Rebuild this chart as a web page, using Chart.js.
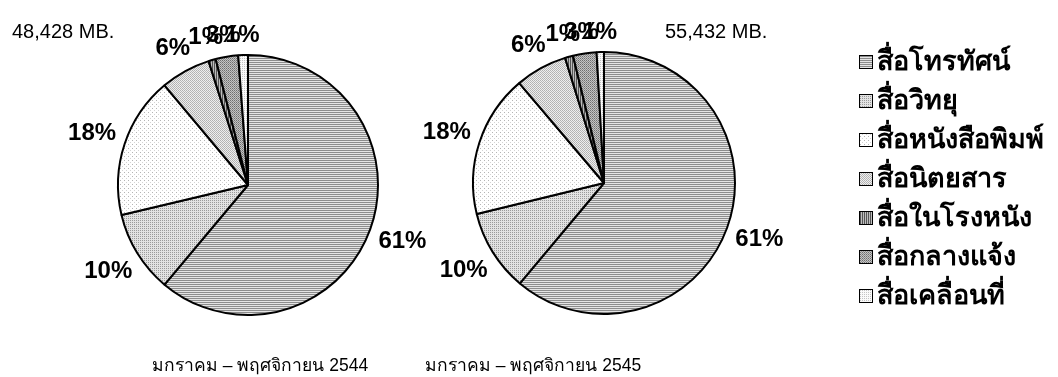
<!DOCTYPE html>
<html lang="th">
<head>
<meta charset="utf-8">
<script src="https://cdn.jsdelivr.net/npm/chart.js"></script>
<style>
  body { margin: 0; background: #fff; }
  #wrap { position: relative; width: 1058px; height: 377px; overflow: hidden; }
  canvas { position: absolute; left: 0; top: 0; }
  .txt { position: absolute; white-space: nowrap; color: #000; }
  .total { font: 20px "Liberation Sans", Arial, sans-serif; top: 20px; }
  .period { font: 17.5px "Liberation Sans", Arial, sans-serif; top: 351px; }
</style>
</head>
<body>
<div id="wrap">
  <canvas id="pie2544" width="1058" height="377"></canvas>
  <canvas id="pie2545" width="1058" height="377"></canvas>
  <div class="txt total" id="total2544" style="left:12px"></div>
  <div class="txt total" id="total2545" style="left:665px"></div>
  <div class="txt period" id="period2544" style="left:152px"></div>
  <div class="txt period" id="period2545" style="left:425px"></div>
</div>
<script>
// ส่วนแบ่งงบโฆษณาตามประเภทสื่อ (%)
const mediaTypes = ['สื่อโทรทัศน์', 'สื่อวิทยุ', 'สื่อหนังสือพิมพ์', 'สื่อนิตยสาร', 'สื่อในโรงหนัง', 'สื่อกลางแจ้ง', 'สื่อเคลื่อนที่'];
const share2544 = [61.1, 10.2, 17.6, 6.2, 0.9, 2.8, 1.2];
const share2545 = [61.1, 10.1, 17.6, 6.4, 1.0, 2.9, 0.9];
const totalLabels = ['48,428 MB.', '55,432 MB.'];
const periodLabels = ['มกราคม – พฤศจิกายน 2544', 'มกราคม – พฤศจิกายน 2545'];

document.getElementById('total2544').textContent = totalLabels[0];
document.getElementById('total2545').textContent = totalLabels[1];
document.getElementById('period2544').textContent = periodLabels[0];
document.getElementById('period2545').textContent = periodLabels[1];

// ลายพื้นแบบขาวดำ (pixel tiles)
function makePattern(rows) {
    const c = document.createElement('canvas');
    c.width = rows[0].length;
    c.height = rows.length;
    const ctx = c.getContext('2d');
    rows.forEach((row, y) => row.forEach((col, x) => {
        ctx.fillStyle = col;
        ctx.fillRect(x, y, 1, 1);
    }));
    return ctx.createPattern(c, 'repeat');
}

const fills = [
    makePattern([['#8c8c8c', '#8c8c8c'], ['#e4e4e4', '#e4e4e4']]),
    makePattern([['#9a9a9a', '#e2e2e2'], ['#e2e2e2', '#e2e2e2']]),
    makePattern([['#b4b4b4', '#fff', '#fff', '#fff'], ['#fff', '#fff', '#fff', '#fff'], ['#fff', '#fff', '#d4d4d4', '#fff'], ['#fff', '#fff', '#fff', '#fff']]),
    makePattern([['#b0b0b0', '#eeeeee'], ['#eeeeee', '#b8b8b8']]),
    makePattern([['#555555', '#bdbdbd']]),
    makePattern([['#6e6e6e', '#c4c4c4'], ['#c4c4c4', '#8e8e8e']]),
    makePattern([['#c4c4c4', '#fafafa'], ['#fafafa', '#fafafa']])
];

const labelFont = 'bold 24px "Liberation Sans", Arial, sans-serif';

// ป้ายเปอร์เซ็นต์นอกวงกลม
const sliceLabels = {
    id: 'sliceLabels',
    afterDatasetsDraw(chart) {
        const ctx = chart.ctx;
        const data = chart.data.datasets[0].data;
        const sum = data.reduce((a, b) => a + b, 0);
        ctx.save();
        ctx.font = labelFont;
        ctx.fillStyle = '#000';
        ctx.textAlign = 'center';
        ctx.textBaseline = 'middle';
        chart.getDatasetMeta(0).data.forEach((arc, i) => {
            const p = arc.getProps(['x', 'y', 'startAngle', 'endAngle', 'outerRadius'], true);
            const mid = (p.startAngle + p.endAngle) / 2;
            const text = Math.round(data[i] / sum * 100) + '%';
            const halfW = ctx.measureText(text).width / 2;
            const ux = Math.cos(mid), uy = Math.sin(mid);
            const dist = p.outerRadius + 8 + Math.abs(ux) * halfW + Math.abs(uy) * 11;
            ctx.fillText(text, p.x + ux * dist, p.y + uy * dist);
        });
        ctx.restore();
    }
};

// คำอธิบายสัญลักษณ์ด้านขวา
const sideLegend = {
    id: 'sideLegend',
    afterDraw(chart) {
        const ctx = chart.ctx;
        ctx.save();
        ctx.font = 'bold 27px "DejaVu Sans", sans-serif';
        ctx.textBaseline = 'middle';
        chart.data.labels.forEach((label, i) => {
            const y = 62 + i * 39;
            ctx.fillStyle = fills[i];
            ctx.fillRect(859, y - 7, 14, 14);
            ctx.strokeStyle = '#000';
            ctx.lineWidth = 1;
            ctx.strokeRect(859.5, y - 6.5, 13, 13);
            ctx.fillStyle = '#000';
            ctx.fillText(label, 877, y + 1);
        });
        ctx.restore();
    }
};

function makePie(id, values, padding, extraPlugins) {
    const ctx = document.getElementById(id).getContext('2d');
    return new Chart(ctx, {
        type: 'pie',
        data: {
            labels: mediaTypes,
            datasets: [{
                data: values,
                backgroundColor: fills,
                borderColor: '#000',
                borderWidth: 2
            }]
        },
        options: {
            responsive: false,
            animation: false,
            events: [],
            layout: { padding: padding },
            plugins: { legend: { display: false }, tooltip: { enabled: false } }
        },
        plugins: [sliceLabels].concat(extraPlugins)
    });
}

makePie('pie2544', share2544, { left: 117, top: 54, right: 679, bottom: 61 }, []);
makePie('pie2545', share2545, { left: 472, top: 51, right: 322, bottom: 62 }, [sideLegend]);
</script>
</body>
</html>
